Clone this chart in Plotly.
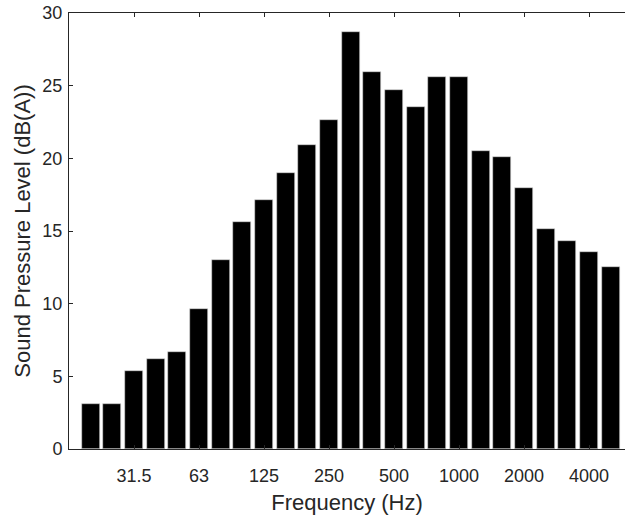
import plotly.graph_objects as go

bands = ["20", "25", "31.5", "40", "50", "63", "80", "100", "125", "160", "200", "250",
         "315", "400", "500", "630", "800", "1000", "1250", "1600", "2000", "2500",
         "3150", "4000", "5000"]
spl = [3.07, 3.07, 5.38, 6.18, 6.7, 9.65, 13.02, 15.63, 17.14, 18.99, 20.89, 22.66,
       28.71, 25.97, 24.71, 23.54, 25.58, 25.58, 20.52, 20.09, 17.94, 15.17, 14.3,
       13.57, 12.51]
tick_labels = ["31.5", "63", "125", "250", "500", "1000", "2000", "4000"]

xpos = list(range(1, len(spl) + 1))
tickvals = [xpos[bands.index(t)] for t in tick_labels]

fig = go.Figure(go.Bar(
    x=xpos, y=spl, width=0.83,
    marker=dict(color="black", line=dict(color="#d8d8d8", width=0.6)),
))

axis_col = "#262626"
font_fam = "Liberation Sans, Arial, Helvetica, sans-serif"

fig.update_layout(
    width=625, height=520,
    margin=dict(l=69, r=0, t=13, b=71),
    plot_bgcolor="white", paper_bgcolor="white",
    showlegend=False,
    font=dict(family=font_fam, color=axis_col),
    bargap=0,
)
fig.update_xaxes(
    automargin=False,
    range=[0, 25.66], tickvals=tickvals, ticktext=tick_labels,
    ticks="inside", ticklen=4, tickcolor=axis_col, tickwidth=1,
    showline=True, linecolor=axis_col, linewidth=1, mirror="ticks",
    showgrid=False, zeroline=False,
    tickfont=dict(size=18, color=axis_col), ticklabelstandoff=10,
    ticklabeloverflow="allow",
    title=dict(text="Frequency (Hz)", font=dict(size=22, color=axis_col), standoff=10),
)
fig.update_yaxes(
    automargin=False,
    range=[0, 30], tickvals=[0, 5, 10, 15, 20, 25, 30],
    ticks="inside", ticklen=4, tickcolor=axis_col, tickwidth=1,
    showline=True, linecolor=axis_col, linewidth=1,
    showgrid=False, zeroline=False,
    tickfont=dict(size=18, color=axis_col), ticklabelstandoff=2,
    ticklabeloverflow="allow",
    title=dict(text="Sound Pressure Level (dB(A))", font=dict(size=22, color=axis_col), standoff=5),
)

fig.write_html(
    "out.html",
    config={"displayModeBar": False},
    post_script="document.body.style.margin='0';document.body.style.overflow='hidden';",
)
